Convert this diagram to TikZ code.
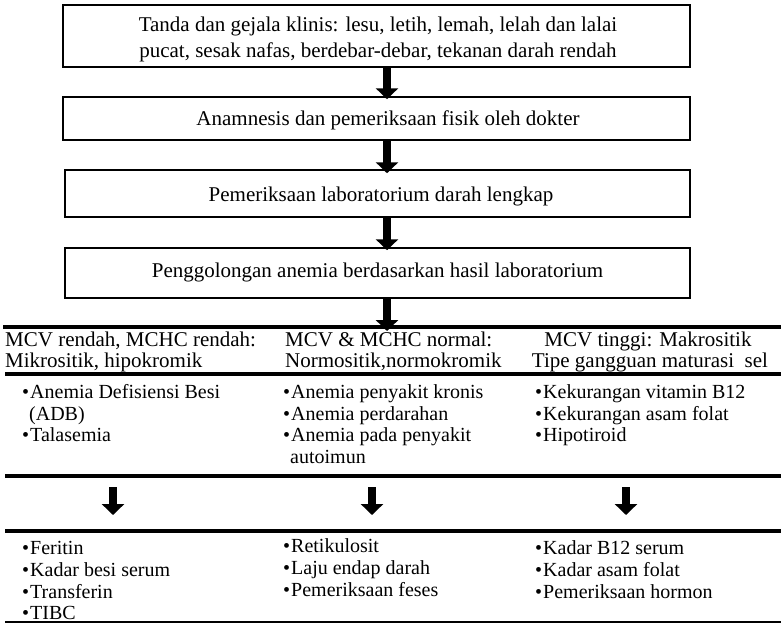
\documentclass[tikz,border=0pt]{standalone}
\usepackage{fontspec}
\setmainfont{Liberation Serif}
\usetikzlibrary{arrows.meta}
\begin{document}
\begin{tikzpicture}[x=1pt,y=-1pt,
  box/.style={draw,line width=1.5pt,inner sep=0pt},
  boxtext/.style={inner sep=0pt,align=center,font=\fontsize{21}{26}\selectfont},
  hdr/.style={inner sep=0pt,anchor=base west,font=\fontsize{21}{26}\selectfont},
  hdrc/.style={inner sep=0pt,anchor=base,font=\fontsize{21}{26}\selectfont},
  item/.style={inner sep=0pt,anchor=base west,font=\fontsize{20}{24}\selectfont},
  blockarrow/.style={line width=7.5pt,-{Triangle[width=22pt,length=11pt]}},
  rule/.style={line width=4pt},
  thinrule/.style={line width=2pt}]
\useasboundingbox (0,0) rectangle (781,625);
% boxes
\node[box,minimum width=627pt,minimum height=62pt] (b1) at (376.5,36) {};
\node[boxtext] (t1) at (378,39) {Tanda dan gejala klinis: lesu, letih, lemah, lelah dan lalai\\pucat, sesak nafas, berdebar-debar, tekanan darah rendah};
\node[box,minimum width=627pt,minimum height=43pt] (b2) at (376.5,118.5) {};
\node[boxtext] (t2) at (388,120) {Anamnesis dan pemeriksaan fisik oleh dokter};
\node[box,minimum width=625pt,minimum height=47pt] (b3) at (377.5,193.5) {};
\node[boxtext] (t3) at (381,196) {Pemeriksaan laboratorium darah lengkap};
\node[box,minimum width=625pt,minimum height=50pt] (b4) at (377.5,273) {};
\node[boxtext] (t4) at (377.5,272) {Penggolongan anemia berdasarkan hasil laboratorium};
% rules
\coordinate (r1l) at (3,327); \coordinate (r1r) at (781,327);
\coordinate (r2l) at (5,374); \coordinate (r2r) at (781,374);
\coordinate (r3l) at (5,476); \coordinate (r3r) at (781,476);
\coordinate (r4l) at (5,531); \coordinate (r4r) at (781,531);
\coordinate (r5l) at (5,622); \coordinate (r5r) at (781,622);
\draw[rule] (r1l) -- (r1r);
\draw[rule] (r2l) -- (r2r);
\draw[rule] (r3l) -- (r3r);
\draw[rule] (r4l) -- (r4r);
\draw[thinrule] (r5l) -- (r5r);
% vertical arrows between boxes
\coordinate (ax) at (387,0);
\draw[blockarrow] (b1.south -| ax) -- ([yshift=-3pt]b2.north -| ax);
\draw[blockarrow] (b2.south -| ax) -- ([yshift=-4pt]b3.north -| ax);
\draw[blockarrow] (b3.south -| ax) -- ([yshift=-3pt]b4.north -| ax);
\draw[blockarrow] (b4.south -| ax) -- ([yshift=-4pt]r1l -| ax);
% headers
\node[hdr] (h11) at (5,346) {MCV rendah, MCHC rendah:};
\node[hdr] (h12) at (5,367) {Mikrositik, hipokromik};
\node[hdr] (h21) at (285,346) {MCV \& MCHC normal:};
\node[hdr] (h22) at (285,367) {Normositik,normokromik};
\node[hdrc] (h31) at (648,346) {MCV tinggi: Makrositik};
\node[hdrc] (h32) at (650,367) {Tipe gangguan maturasi\ \ sel};
% items upper
\node[item] (a1) at (22,398) {•\kern1pt Anemia Defisiensi Besi};
\node[item] (a1b) at (29,420) {(ADB)};
\node[item] (a2) at (22,441) {•\kern1pt Talasemia};
\node[item] (c1) at (283,398) {•\kern1pt Anemia penyakit kronis};
\node[item] (c2) at (283,420) {•\kern1pt Anemia perdarahan};
\node[item] (c3) at (283,441) {•\kern1pt Anemia pada penyakit};
\node[item] (c3b) at (290,463) {autoimun};
\node[item] (e1) at (535,398) {•\kern1pt Kekurangan vitamin B12};
\node[item] (e2) at (535,420) {•\kern1pt Kekurangan asam folat};
\node[item] (e3) at (535,441) {•\kern1pt Hipotiroid};
% lower arrows
\coordinate (p1t) at (113,487); \coordinate (p1b) at (113,515);
\coordinate (p2t) at (372,487); \coordinate (p2b) at (372,515);
\coordinate (p3t) at (626,487); \coordinate (p3b) at (626,515);
\draw[blockarrow] (p1t) -- (p1b);
\draw[blockarrow] (p2t) -- (p2b);
\draw[blockarrow] (p3t) -- (p3b);
% items lower
\node[item] (f1) at (22,554) {•\kern1pt Feritin};
\node[item] (f2) at (22,576) {•\kern1pt Kadar besi serum};
\node[item] (f3) at (22,598) {•\kern1pt Transferin};
\node[item] (f4) at (22,619) {•\kern1pt TIBC};
\node[item] (g1) at (283,552) {•\kern1pt Retikulosit};
\node[item] (g2) at (283,574) {•\kern1pt Laju endap darah};
\node[item] (g3) at (283,596) {•\kern1pt Pemeriksaan feses};
\node[item] (k1) at (535,554) {•\kern1pt Kadar B12 serum};
\node[item] (k2) at (535,576) {•\kern1pt Kadar asam folat};
\node[item] (k3) at (535,598) {•\kern1pt Pemeriksaan hormon};
\end{tikzpicture}
\end{document}
